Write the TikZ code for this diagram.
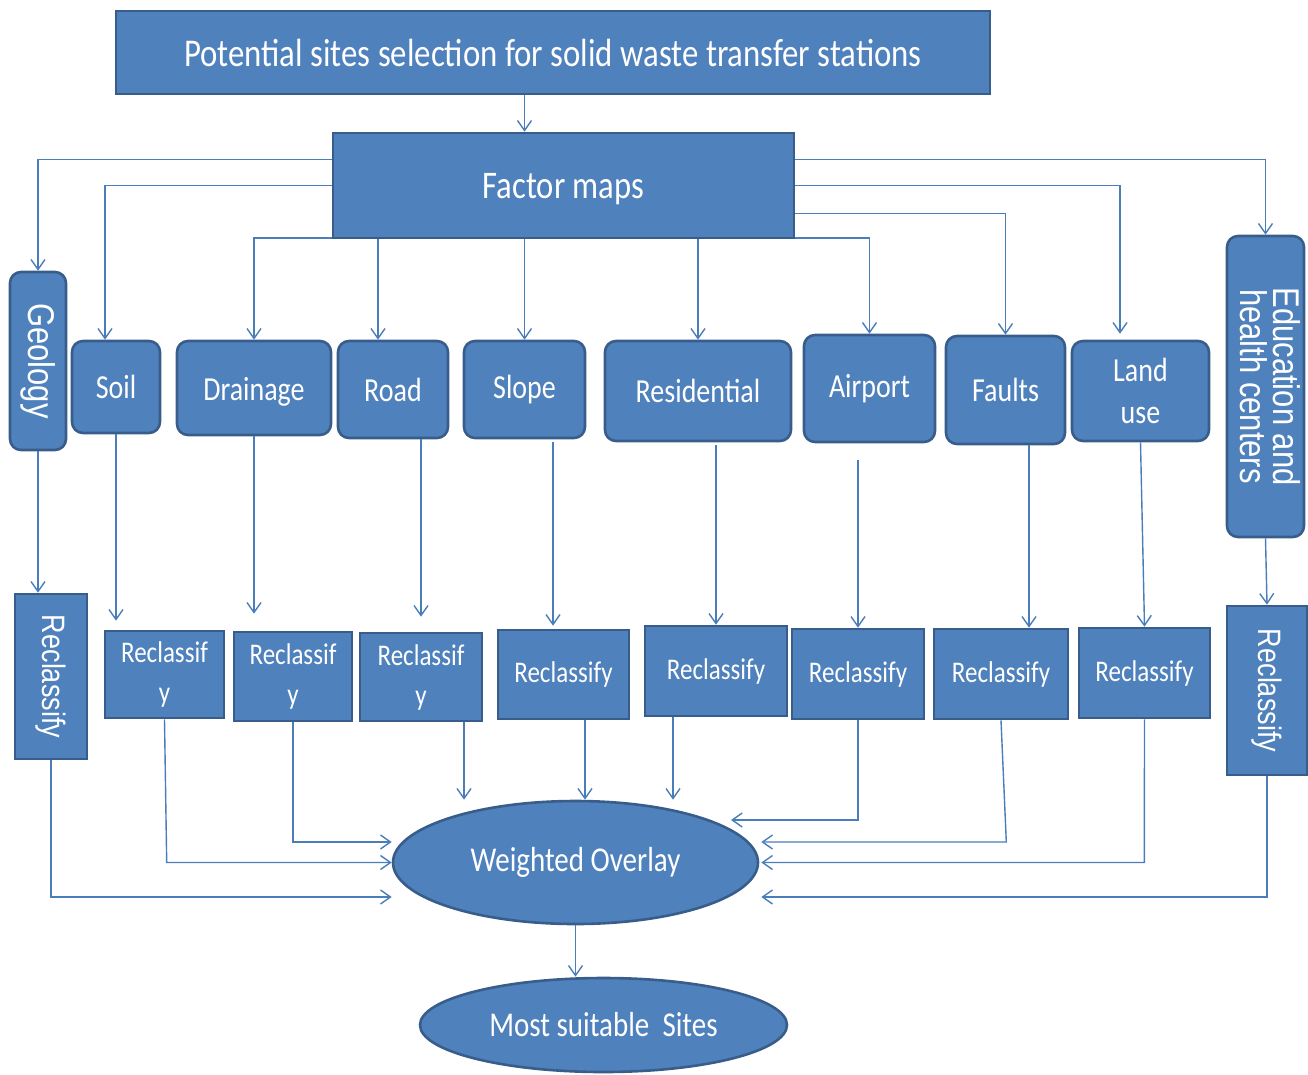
\documentclass[tikz,border=0pt]{standalone}
\usepackage{fontspec}
\setmainfont{Carlito}
\newfontfamily\sidefont{Liberation Sans}
\usetikzlibrary{arrows.meta, shapes.geometric}
\definecolor{boxfill}{HTML}{4F81BD}
\definecolor{boxline}{HTML}{385D8A}
\definecolor{linkcol}{HTML}{4A7EBB}
\newcommand{\tall}[1]{\scalebox{1}[1.2]{#1}}
\tikzset{
	x=1pt, y=-1pt, % one unit is one pixel of the layout, y runs downward
	block/.style={draw=boxline, fill=boxfill, line width=2.6pt, text=white, inner sep=0pt, align=center}, % plain box
	card/.style={block, rounded corners=11pt}, % rounded factor box
	oval/.style={block, ellipse}, % overlay and result
	link/.style={draw=linkcol, line width=1.4pt, -{Straight Barb[length=10pt,width=14pt]}}, % connector with open tip
	lab/.style={font=\fontsize{28}{34}\selectfont}, % factor names
	rec/.style={font=\fontsize{25}{40}\selectfont}, % reclassify boxes
	side/.style={font=\sidefont\fontsize{31}{36}\selectfont}, % upright rotated text
}

\begin{document}
\begin{tikzpicture}
	\useasboundingbox (0,0) rectangle (1308,1074);
	\node[block, minimum width=874pt, minimum height=83pt, font=\fontsize{32.8}{38}\selectfont] (title) at (553,52.5) {\tall{Potential sites selection for solid waste transfer stations}};
	\node[block, minimum width=461pt, minimum height=105pt, font=\fontsize{32.6}{38}\selectfont, text height=26pt, text depth=0pt] (fm) at (563.5,185.5) {\tall{Factor maps}};

	% factor maps
	\node[card, side, minimum width=56pt, minimum height=178pt] (geo) at (38,361) {\rotatebox{-90}{\tall{Geology}}};
	\node[card, lab, minimum width=88pt, minimum height=92pt] (soil) at (116,387) {\tall{Soil}};
	\node[card, lab, minimum width=154pt, minimum height=94pt, text height=24pt, text depth=0pt] (drain) at (254,388) {\tall{Drainage}};
	\node[card, lab, minimum width=110pt, minimum height=97pt] (road) at (393,389.5) {\tall{Road}};
	\node[card, lab, minimum width=121pt, minimum height=97pt] (slope) at (524.5,389.5) {\tall{Slope}};
	\node[card, lab, minimum width=186pt, minimum height=100pt] (resid) at (698,391) {\tall{Residential}};
	\node[card, lab, minimum width=131pt, minimum height=107pt] (airp) at (869.5,388.5) {\tall{Airport}};
	\node[card, lab, minimum width=119pt, minimum height=108pt] (faults) at (1005.5,390) {\tall{Faults}};
	\node[card, minimum width=137pt, minimum height=100pt, font=\fontsize{28}{42}\selectfont] (land) at (1140.5,391) {\tall{Land}\\\tall{use}};
	\node[card, minimum width=77pt, minimum height=301pt, font=\sidefont\fontsize{31}{36}\selectfont] (edu) at (1265.5,386.5) {\rotatebox{-90}{\tall{\begin{tabular}{@{}c@{}}Education and\\[-8pt]health centers\end{tabular}}}};

	% reclassify step
	\node[block, side, minimum width=72pt, minimum height=165pt, font=\sidefont\fontsize{27}{32}\selectfont] (rgeo) at (51,676.5) {\rotatebox{-90}{\tall{Reclassify}}};
	\node[block, rec, minimum width=119pt, minimum height=87pt] (rsoil) at (164.5,674.5) {\tall{Reclassif}\\\tall{y}};
	\node[block, rec, minimum width=118pt, minimum height=89pt] (rdrain) at (293,676.5) {\tall{Reclassif}\\\tall{y}};
	\node[block, rec, minimum width=122pt, minimum height=88pt] (rroad) at (421,677) {\tall{Reclassif}\\\tall{y}};
	\node[block, rec, minimum width=131pt, minimum height=89pt] (rslope) at (563.5,674.5) {\tall{Reclassify}};
	\node[block, rec, minimum width=142pt, minimum height=90pt] (rresid) at (716,671) {\tall{Reclassify}};
	\node[block, rec, minimum width=132pt, minimum height=90pt] (rairp) at (858,674) {\tall{Reclassify}};
	\node[block, rec, minimum width=134pt, minimum height=90pt] (rfaults) at (1001,674) {\tall{Reclassify}};
	\node[block, rec, minimum width=131pt, minimum height=90pt] (rland) at (1144.5,673) {\tall{Reclassify}};
	\node[block, side, minimum width=80pt, minimum height=169pt, font=\sidefont\fontsize{27}{32}\selectfont] (redu) at (1267,690.5) {\rotatebox{-90}{\tall{Reclassify}}};

	\node[oval, minimum width=365pt, minimum height=123pt, font=\fontsize{29}{34}\selectfont] (wo) at (575.5,862.5) {\tall{Weighted Overlay}};
	\node[oval, minimum width=367pt, minimum height=94pt, font=\fontsize{29}{34}\selectfont] (ms) at (603.5,1025) {\tall{Most suitable\ \ Sites}};

	% from the top down to the factors
	\draw[link] (title.south -| slope.north) -- (fm.north -| slope.north);
	\draw[link] ([yshift=-28pt]fm.north west) -| (geo.north);
	\draw[link] (fm.west) -| ([xshift=-11pt]soil.north);
	\draw[link] ([yshift=1.5pt]fm.south west) -| (drain.north);
	\draw[link] ([xshift=-15pt]road.north |- fm.south) -- ([xshift=-15pt]road.north);
	\draw[link] (fm.south -| slope.north) -- (slope.north);
	\draw[link] (fm.south -| resid.north) -- (resid.north);
	\draw[link] ([yshift=1.5pt]fm.south east) -| (airp.north);
	\draw[link] ([yshift=-82pt]fm.north east) -| (faults.north);
	\draw[link] (fm.east) -| ([xshift=-20.5pt,yshift=6pt]land.north);
	\draw[link] ([yshift=-28pt]fm.north east) -| (edu.north);

	% factors to reclassify
	\draw[link] (geo.south) -- ([xshift=-13pt]rgeo.north);
	\draw[link] (soil.south) -- ([xshift=-48.5pt,yshift=9pt]rsoil.north);
	\draw[link] (drain.south) -- ([xshift=-39pt,yshift=17pt]rdrain.north);
	\draw[link] ([xshift=28pt]road.south) -- ([yshift=15pt]rroad.north);
	\draw[link] ([xshift=28.5pt,yshift=-3pt]slope.south) -- ([xshift=-10.5pt,yshift=3pt]rslope.north);
	\draw[link] ([xshift=18pt,yshift=-3pt]resid.south) -- (rresid.north);
	\draw[link] ([xshift=-11.5pt,yshift=-17pt]airp.south) -- (rairp.north);
	\draw[link] ([xshift=23.5pt]faults.south) -- ([xshift=28pt]rfaults.north);
	\draw[link] (land.south) -- (rland.north);
	\draw[link] (edu.south) -- (redu.north);

	% reclassify to weighted overlay
	\draw[link] (rgeo.south) |- ([yshift=-34.5pt]wo.west);
	\draw[link] (rsoil.south) -- ([xshift=-225pt]wo.west) -- (wo.west);
	\draw[link] (rdrain.south) |- ([yshift=20.5pt]wo.west);
	\draw[link] ([xshift=43pt]rroad.south) -- ([xshift=-111.5pt]wo.north);
	\draw[link] ([xshift=21.5pt]rslope.south) -- ([xshift=9.5pt]wo.north);
	\draw[link] ([xshift=-43pt]rresid.south) -- ([xshift=97.5pt]wo.north);
	\draw[link] (rairp.south) |- ([xshift=155.5pt,yshift=42.5pt]wo.center);
	\draw[link] (rfaults.south) -- ([xshift=247pt,yshift=20.5pt]wo.east) -- ([xshift=2pt,yshift=20.5pt]wo.east);
	\draw[link] (rland.south) -- ([xshift=385pt]wo.east) -- ([xshift=2pt]wo.east);
	\draw[link] (redu.south) |- ([xshift=2pt,yshift=-34.5pt]wo.east);
	\draw[link] (wo.south) -- (wo.south |- ms.north);
\end{tikzpicture}
\end{document}
